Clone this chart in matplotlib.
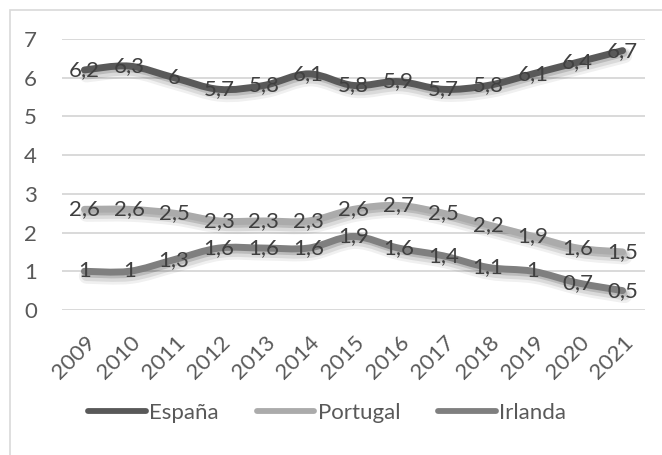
import numpy as np
import matplotlib
matplotlib.use('Agg')
import matplotlib.pyplot as plt
import matplotlib.patheffects as pe
import matplotlib.transforms as mtransforms
from matplotlib.path import Path
from matplotlib.patches import PathPatch, Rectangle
from matplotlib.lines import Line2D

# ----------------------------- datos -----------------------------
years = ['2009', '2010', '2011', '2012', '2013', '2014', '2015',
         '2016', '2017', '2018', '2019', '2020', '2021']
espana = [6.2, 6.3, 6.0, 5.7, 5.8, 6.1, 5.8, 5.9, 5.7, 5.8, 6.1, 6.4, 6.7]
portugal = [2.6, 2.6, 2.5, 2.3, 2.3, 2.3, 2.6, 2.7, 2.5, 2.2, 1.9, 1.6, 1.5]
irlanda = [1.0, 1.0, 1.3, 1.6, 1.6, 1.6, 1.9, 1.6, 1.4, 1.1, 1.0, 0.7, 0.5]
series_names = ['España', 'Portugal', 'Irlanda']
series_colors = ['#595959', '#ABABAB', '#7F7F7F']

plt.rcParams['font.family'] = ['Lato', 'DejaVu Sans']
FS = 16

W, H = 662, 455
fig = plt.figure(figsize=(W / 100, H / 100), dpi=100)
fig.patch.set_facecolor('white')

# marco del gráfico
fig.patches.append(Rectangle((10 / W, -0.1), 1.2, (H - 10) / H + 0.1,
                             transform=fig.transFigure, fill=False,
                             edgecolor='#D9D9D9', linewidth=1.2))

ax = fig.add_axes([62 / W, 145 / H, (645 - 62) / W, (416 - 145) / H])
ax.set_xlim(-0.5, len(years) - 0.5)
ax.set_ylim(0, 7)
for s in ax.spines.values():
    s.set_visible(False)
ax.set_yticks(range(0, 8))
ax.yaxis.grid(True, color='#D9D9D9', linewidth=1.4)
ax.set_axisbelow(True)
ax.tick_params(length=0, labelsize=FS, labelcolor='#595959')
ax.tick_params(axis='y', pad=18)
ax.set_xticks(range(len(years)))
ax.set_xticklabels(years, rotation=45, ha='right', va='center',
                   rotation_mode='anchor')
ax.tick_params(axis='x', pad=21)
shift = mtransforms.ScaledTranslation(8 / 100, 0, fig.dpi_scale_trans)
for lbl in ax.get_xticklabels():
    lbl.set_transform(lbl.get_transform() + shift)


def smooth_path(xs, ys):
    # curva suavizada (Catmull-Rom como Bézier cúbicas)
    pts = np.column_stack([xs, ys]).astype(float)
    n = len(pts)
    verts = [pts[0]]
    codes = [Path.MOVETO]
    for i in range(n - 1):
        p0 = pts[i - 1] if i > 0 else pts[i]
        p1, p2 = pts[i], pts[i + 1]
        p3 = pts[i + 2] if i + 2 < n else pts[i + 1]
        c1 = p1 + (p2 - p0) / 6
        c2 = p2 - (p3 - p1) / 6
        verts += [c1, c2, p2]
        codes += [Path.CURVE4] * 3
    return Path(verts, codes)


xs = np.arange(len(years))
LW = 5
# sombra difusa bajo cada línea
shadow = [pe.SimpleLineShadow(offset=(1.5, -3.5), shadow_color='black',
                              alpha=0.06, linewidth=LW + 6),
          pe.SimpleLineShadow(offset=(1.5, -3), shadow_color='black',
                              alpha=0.09, linewidth=LW + 3),
          pe.SimpleLineShadow(offset=(1, -2), shadow_color='black',
                              alpha=0.14, linewidth=LW),
          pe.Normal()]
for vals, col in zip([espana, portugal, irlanda], series_colors):
    patch = PathPatch(smooth_path(xs, vals), facecolor='none', edgecolor=col,
                      linewidth=LW, capstyle='round', joinstyle='round',
                      clip_on=False)
    patch.set_path_effects(shadow)
    ax.add_patch(patch)

# etiquetas de datos
for vals in [espana, portugal, irlanda]:
    for x, v in zip(xs, vals):
        txt = ('%g' % v).replace('.', ',')
        ax.text(x, v, txt, ha='center', va='center', fontsize=FS,
                color='#404040', zorder=5)

# leyenda
handles = [Line2D([], [], color=c, linewidth=4.2, solid_capstyle='round')
           for c in series_colors]
leg = fig.legend(handles, series_names, loc='center', ncol=3,
                 bbox_to_anchor=(327 / W, 1 - 413 / H), frameon=False,
                 fontsize=FS, handlelength=2.6, handletextpad=0.15,
                 columnspacing=1.7, labelcolor='#595959')

fig.savefig('out.png', dpi=100, facecolor='white')
